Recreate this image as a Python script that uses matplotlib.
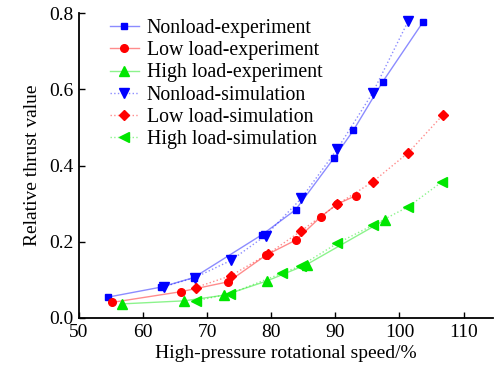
import matplotlib.pyplot as plt
from matplotlib.colors import to_rgba

plt.rcParams['font.family'] = ['Liberation Serif', 'DejaVu Serif']
plt.rcParams['font.size'] = 14

nonload_exp_x = [54.6, 62.8, 67.9, 78.6, 83.8, 89.8, 92.8, 97.4, 103.7]
nonload_exp_y = [0.055, 0.081, 0.106, 0.219, 0.284, 0.420, 0.492, 0.620, 0.777]
low_exp_x = [55.2, 65.9, 73.3, 79.2, 83.9, 87.7, 90.2, 93.2]
low_exp_y = [0.041, 0.069, 0.095, 0.165, 0.205, 0.265, 0.298, 0.321]
high_exp_x = [56.7, 66.4, 72.7, 79.3, 85.5, 97.7]
high_exp_y = [0.037, 0.045, 0.060, 0.097, 0.140, 0.257]

nonload_sim_x = [63.2, 68.1, 73.7, 79.1, 84.7, 90.3, 95.8, 101.4]
nonload_sim_y = [0.082, 0.106, 0.151, 0.216, 0.314, 0.443, 0.590, 0.780]
low_sim_x = [68.2, 73.7, 79.5, 84.7, 90.3, 95.9, 101.4, 106.8]
low_sim_y = [0.080, 0.111, 0.168, 0.229, 0.298, 0.358, 0.434, 0.533]
high_sim_x = [68.3, 73.6, 81.6, 84.6, 90.3, 95.8, 101.4, 106.7]
high_sim_y = [0.045, 0.064, 0.117, 0.137, 0.196, 0.243, 0.292, 0.358]

blue = '#0000ff'
red = '#ff0000'
green = '#00e600'

fig = plt.figure(figsize=(4.95, 3.77), dpi=100)
ax = fig.add_axes([0.1596, 0.1565, 0.8364, 0.809])

def series(x, y, c, mk, ls, lab, ms):
    # pale line, solid markers
    ax.plot(x, y, color=to_rgba(c, 0.45), lw=1, ls=ls, marker=mk, ms=ms,
            markerfacecolor=c, markeredgecolor=c, label=lab)

series(nonload_exp_x, nonload_exp_y, blue, 's', '-', 'Nonload-experiment', 5)
series(low_exp_x, low_exp_y, red, 'o', '-', 'Low load-experiment', 5.5)
series(high_exp_x, high_exp_y, green, '^', '-', 'High load-experiment', 6.5)
series(nonload_sim_x, nonload_sim_y, blue, 'v', ':', 'Nonload-simulation', 6.5)
series(low_sim_x, low_sim_y, red, 'D', ':', 'Low load-simulation', 5.5)
series(high_sim_x, high_sim_y, green, '<', ':', 'High load-simulation', 6.5)

ax.legend(loc='upper left', bbox_to_anchor=(0.075, 0.98), fontsize=14.3,
          frameon=False, handlelength=1.45, handletextpad=0.4,
          labelspacing=0.16, borderpad=0, borderaxespad=0)

ax.set_xlim(50, 114.6)
ax.set_ylim(0, 0.8)
ax.set_xticks([50, 60, 70, 80, 90, 100, 110])
ax.set_yticks([0.0, 0.2, 0.4, 0.6, 0.8])
ax.set_yticklabels(['0.0', '0.2', '0.4', '0.6', '0.8'])
ax.tick_params(direction='in', length=4, width=1, pad=4)
ax.spines['top'].set_visible(False)
ax.spines['right'].set_visible(False)
for s in ('left', 'bottom'):
    ax.spines[s].set_linewidth(1.3)

ax.set_xlabel('High-pressure rotational speed/%', labelpad=3)
ax.set_ylabel('Relative thrust value', labelpad=6)

fig.savefig('out.png', dpi=100)
